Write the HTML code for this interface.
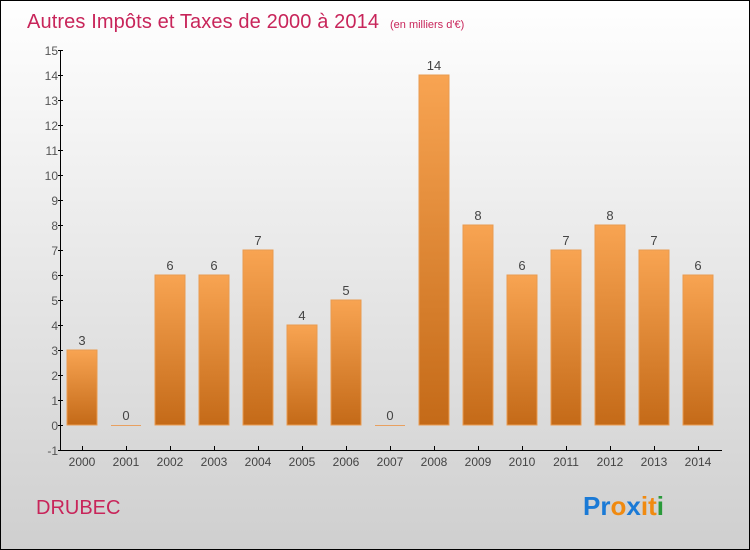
<!DOCTYPE html>
<html><head><meta charset="utf-8"><style>
body{margin:0;}
#c{width:750px;height:550px;position:relative;overflow:hidden;}
</style></head><body>
<div id="c">
<svg width="750" height="550" xmlns="http://www.w3.org/2000/svg" font-family="'Liberation Sans', sans-serif">
<defs>
<linearGradient id="bg" x1="0" y1="0" x2="0" y2="1"><stop offset="0" stop-color="#ffffff"/><stop offset="1" stop-color="#cfcfcf"/></linearGradient>
<linearGradient id="bar" x1="0" y1="0" x2="0" y2="1"><stop offset="0" stop-color="#f8a452"/><stop offset="1" stop-color="#c46a18"/></linearGradient>
</defs>
<rect x="0.5" y="0.5" width="749" height="549" fill="url(#bg)" stroke="#000"/>
<text x="27" y="28" font-size="20" fill="#c8255a" textLength="352">Autres Impôts et Taxes de 2000 à 2014</text>
<text x="390" y="28" font-size="11" fill="#c8255a">(en milliers d'€)</text>
<g id="plot"></g>
<text x="36" y="514" font-size="20" fill="#c8255a">DRUBEC</text>
<text x="583" y="515" font-size="26" font-weight="bold"><tspan fill="#1a7ad6">Pr</tspan><tspan fill="#f08a10">o</tspan><tspan fill="#1a7ad6">x</tspan><tspan fill="#f08a10">i</tspan><tspan fill="#f08a10">t</tspan><tspan fill="#2a9a3a">i</tspan></text>
</svg>
</div>
<script>
const categories=["2000","2001","2002","2003","2004","2005","2006","2007","2008","2009","2010","2011","2012","2013","2014"];
const values=[3,0,6,6,7,4,5,0,14,8,6,7,8,7,6];
const yTicks=[-1,0,1,2,3,4,5,6,7,8,9,10,11,12,13,14,15];
const NS="http://www.w3.org/2000/svg";
const g=document.getElementById('plot');
function y(v){return 425-v*25;}
function x(i){return 82+i*44;}
function mk(t,a){const e=document.createElementNS(NS,t);for(const k in a)e.setAttribute(k,a[k]);g.appendChild(e);return e;}
let e=mk('line',{x1:60.5,y1:50,x2:60.5,y2:450.5,stroke:'#000'});


e=mk('line',{x1:60,y1:450.5,x2:722,y2:450.5,stroke:'#000'});


yTicks.forEach(v=>{
 let t=mk('line',{x1:58,x2:63,y1:y(v)+0.5,y2:y(v)+0.5,stroke:'#000'});
 
 
 let l=mk('text',{x:58,y:y(v)+5,'text-anchor':'end','font-size':12,fill:'#555'});
 l.textContent=v;
 
 
});
categories.forEach((c,i)=>{
 const v=values[i];
 let t=mk('line',{x1:x(i)+0.5,x2:x(i)+0.5,y1:446,y2:451,stroke:'#000'});
 
 
 let l=mk('text',{x:x(i),y:466,'text-anchor':'middle','font-size':12,fill:'#444'});
 l.textContent=c;
 
 
 const h=Math.max(v*25,1);
 let b=mk('rect',{x:x(i)-15,y:y(v),width:30,height:h,fill:v===0?'#e8a060':'url(#bar)',stroke:v===0?'none':'#e99b50','stroke-width':1});
 
 
 let vl=mk('text',{x:x(i),y:y(v)-5,'text-anchor':'middle','font-size':13,fill:'#444'});
 vl.textContent=v;
 
 
});
</script>
</body></html>
